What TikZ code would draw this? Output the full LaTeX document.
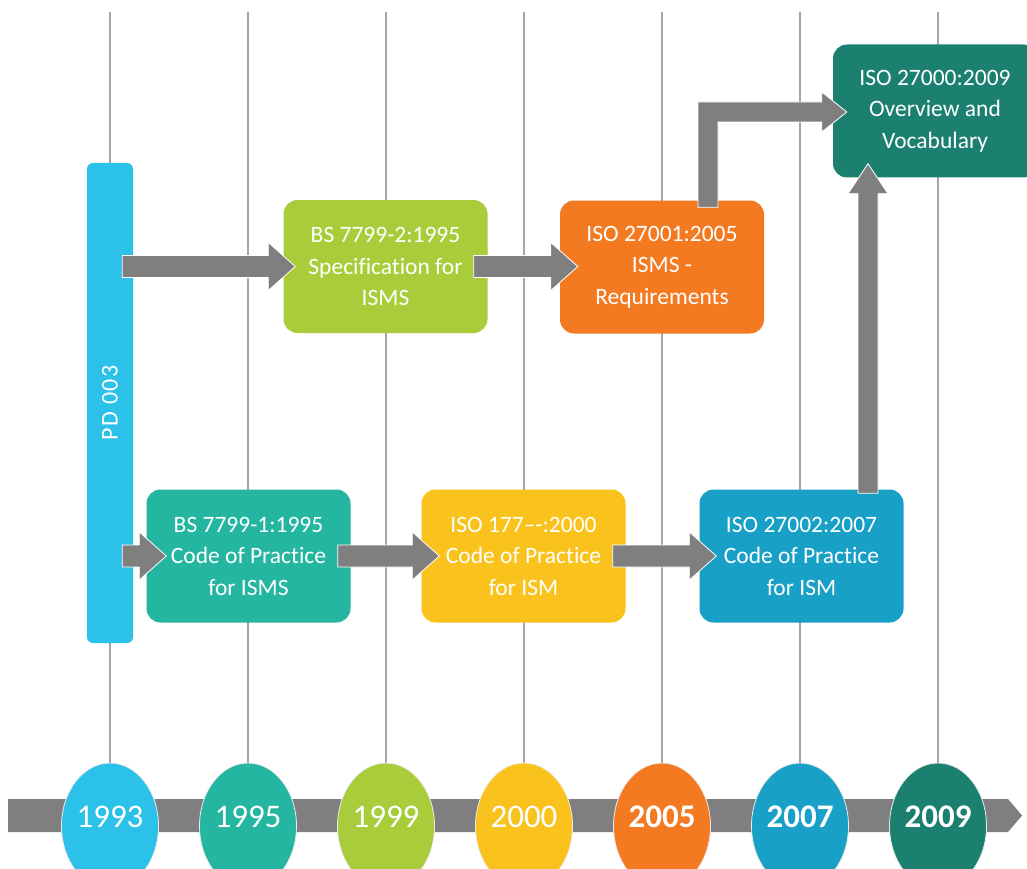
\documentclass[tikz,border=0pt]{standalone}
\usepackage{fontspec}
\setmainfont{Carlito}[Ligatures={TeX,NoCommon}]
\usetikzlibrary{shapes.geometric,calc,backgrounds}

\definecolor{pdblue}{HTML}{2BC1E8}
\definecolor{tealA}{HTML}{24B6A0}
\definecolor{limeA}{HTML}{A8CC3A}
\definecolor{yellowA}{HTML}{F9C21C}
\definecolor{orangeA}{HTML}{F47A22}
\definecolor{blueA}{HTML}{18A0C6}
\definecolor{tealB}{HTML}{1B806F}
\definecolor{arrowgray}{HTML}{7F7F7F}
\definecolor{gridgray}{HTML}{A6A6A6}

\begin{document}
\begin{tikzpicture}[x=1pt,y=-1pt,
  stdbox/.style={rounded corners=14pt, minimum width=204pt, minimum height=133pt,
    inner sep=0pt, text=white, align=center,
    font={\fontsize{23.5}{31.5}\selectfont}},
  yearball/.style={ellipse, minimum width=97pt, minimum height=126pt, inner sep=0pt,
    draw=white!85!gray, line width=0.8pt},
  yeartext/.style={text=white, inner sep=0pt, font={\fontsize{33}{36}\selectfont}},
  yearbold/.style={yeartext, font={\fontsize{33}{36}\selectfont\bfseries}},
  gridline/.style={draw=gridgray, line width=1.4pt},
  blockfill/.style={fill=arrowgray, draw=white, line width=0.8pt},
  % horizontal block arrow: shaft from the start point, tip at the target
  harrow/.style={blockfill, to path={let \p1=(\tikztostart), \p2=(\tikztotarget) in
    (\x1,\y1+11pt) -- (\x2-27pt,\y1+11pt) -- (\x2-27pt,\y1+24pt) -- (\x2,\y1)
    -- (\x2-27pt,\y1-24pt) -- (\x2-27pt,\y1-11pt) -- (\x1,\y1-11pt) -- cycle}},
  % upward block arrow
  uarrow/.style={blockfill, to path={let \p1=(\tikztostart), \p2=(\tikztotarget) in
    (\x1-10pt,\y1) -- (\x1-10pt,\y2-30pt) -- (\x1-20pt,\y2-30pt) -- (\x1,\y2)
    -- (\x1+20pt,\y2-30pt) -- (\x1+10pt,\y2-30pt) -- (\x1+10pt,\y1) -- cycle}},
  % block arrow going up, then right
  elbowarrow/.style={blockfill, to path={let \p1=(\tikztostart), \p2=(\tikztotarget) in
    (\x1-10pt,\y1) -- (\x1-10pt,\y2+10pt) -- (\x2-25pt,\y2+10pt) -- (\x2-25pt,\y2+20pt)
    -- (\x2,\y2) -- (\x2-25pt,\y2-20pt) -- (\x2-25pt,\y2-10pt) -- (\x1+10pt,\y2-10pt)
    -- (\x1+10pt,\y1) -- cycle}}]

\useasboundingbox (0,0) rectangle (1027,869);
\clip (0,0) rectangle (1027,869);

% timeline band
\fill[arrowgray] (8,799) -- (1008,799) -- (1022,815.5) -- (1008,832) -- (8,832) -- cycle;

% year markers
\node[yearball, fill=pdblue]  (y1993) at (110,826) {};
\node[yearball, fill=tealA]   (y1995) at (248,826) {};
\node[yearball, fill=limeA]   (y1999) at (386,826) {};
\node[yearball, fill=yellowA] (y2000) at (524,826) {};
\node[yearball, fill=orangeA] (y2005) at (662,826) {};
\node[yearball, fill=blueA]   (y2007) at (800,826) {};
\node[yearball, fill=tealB]   (y2009) at (938,826) {};
\node[yeartext] (t1993) at ($(y1993)+(0,-9)$) {1993};
\node[yeartext] (t1995) at ($(y1995)+(0,-9)$) {1995};
\node[yeartext] (t1999) at ($(y1999)+(0,-9)$) {1999};
\node[yeartext] (t2000) at ($(y2000)+(0,-9)$) {2000};
\node[yearbold] (t2005) at ($(y2005)+(0,-9)$) {2005};
\node[yearbold] (t2007) at ($(y2007)+(0,-9)$) {2007};
\node[yearbold] (t2009) at ($(y2009)+(0,-9)$) {2009};

% guide lines behind everything
\coordinate (top) at (0,12);
\begin{pgfonlayer}{background}
  \fill[white] (0,0) rectangle (1027,869);
  \foreach \yr in {1993,1995,1999,2000,2005,2007,2009}
    \draw[gridline] (y\yr.north |- top) -- (y\yr.north);
\end{pgfonlayer}

% PD 003 bar
\node[fill=pdblue, rounded corners=6pt, minimum width=46pt, minimum height=480pt,
      inner sep=0pt] (pd) at (110,403) {};
\node[rotate=90, text=white, inner sep=0pt,
      font={\fontsize{24}{28}\selectfont\addfontfeatures{LetterSpace=6}}]
      (pdtext) at (pd.center) {PD 003};

% standards
\node[stdbox, fill=limeA]   (bs2)  at (385.5,266.5) {BS 7799-2:1995\\Specification for\\ISMS};
\node[stdbox, fill=orangeA] (iso1) at (662,267)     {ISO 27001:2005\\ISMS -\\Requirements};
\node[stdbox, fill=tealB]   (iso0) at (935,111)     {ISO 27000:2009\\Overview and\\Vocabulary};
\node[stdbox, fill=tealA]   (bs1)  at (248.5,556)   {BS 7799-1:1995\\Code of Practice\\for ISMS};
\node[stdbox, fill=yellowA] (iso17) at (523.5,556)  {ISO 177\textendash-:2000\\Code of Practice\\for ISM};
\node[stdbox, fill=blueA]   (iso2) at (801.5,556)   {ISO 27002:2007\\Code of Practice\\for ISM};

% progression arrows
\draw[harrow] ($(pd.east |- bs2.west)+(-11,0)$) to ($(bs2.west)+(12,0)$);
\draw[harrow] ($(bs2.east)+(-14,0)$) to ($(iso1.west)+(18,0)$);
\draw[elbowarrow] ($(iso1.north)+(46,7)$) to ($(iso0.west)+(14,1)$);
\draw[harrow] ($(pd.east |- bs1.west)+(-11,0)$) to ($(bs1.west)+(20,0)$);
\draw[harrow] ($(bs1.east)+(-13,0)$) to ($(iso17.west)+(18,0)$);
\draw[harrow] ($(iso17.east)+(-13,0)$) to ($(iso2.west)+(17,0)$);
\draw[uarrow] ($(iso2.north)+(66.5,4)$) to ($(iso0.south)+(-67,-14)$);

\end{tikzpicture}
\end{document}
